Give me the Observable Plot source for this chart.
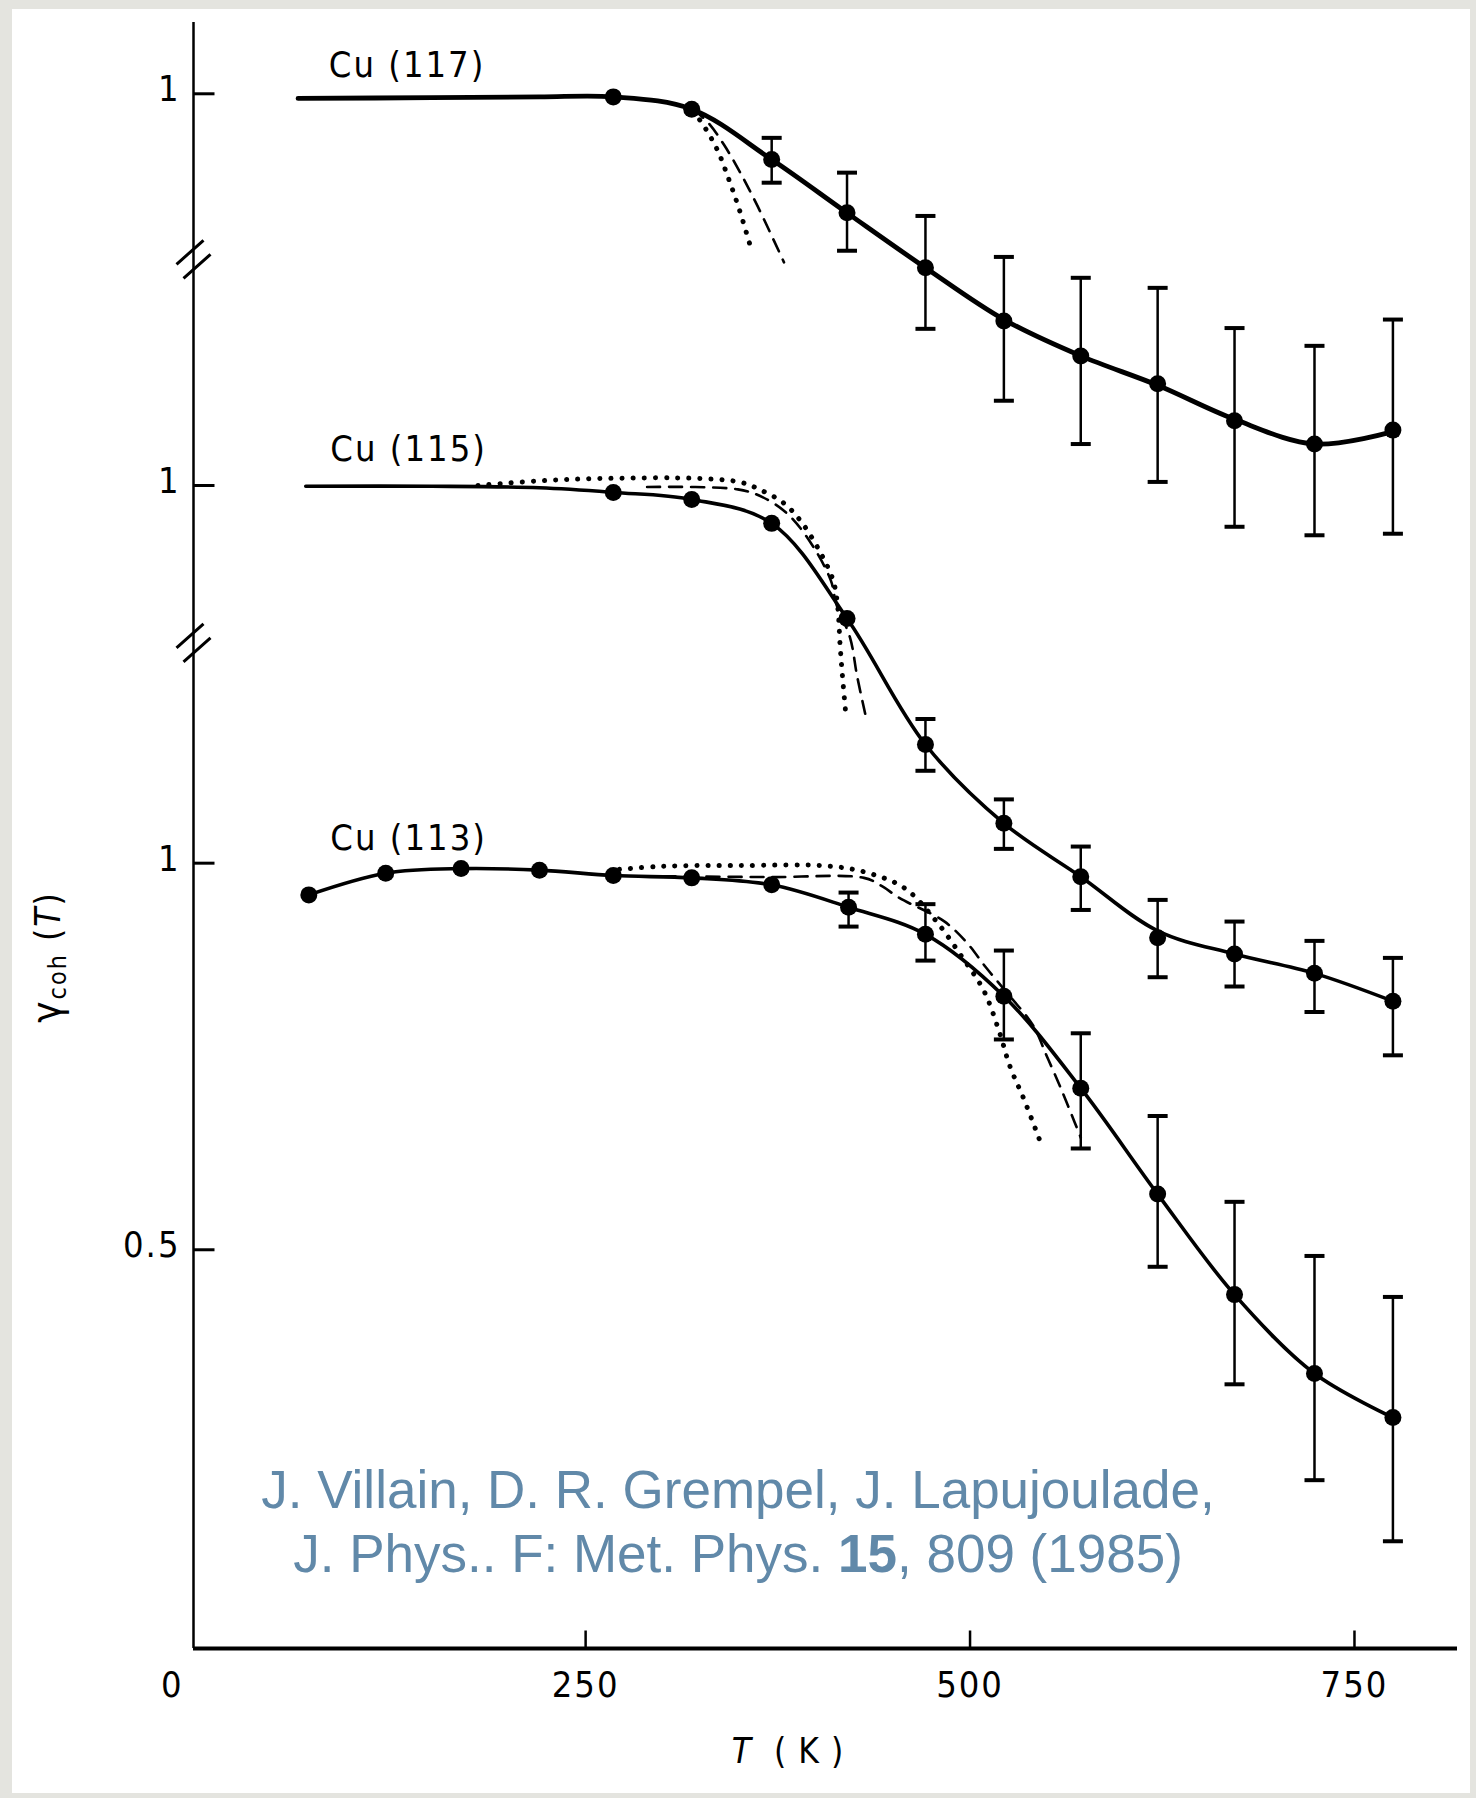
<!DOCTYPE html>
<html>
<head>
<meta charset="utf-8">
<script src="https://cdn.jsdelivr.net/npm/d3@7"></script>
<script src="https://cdn.jsdelivr.net/npm/@observablehq/plot@0.6"></script>
<style>
  html, body { margin: 0; padding: 0; background: #e4e4df; }
  #page { position: relative; width: 1476px; height: 1798px; overflow: hidden; }
  #paper { position: absolute; left: 12px; top: 9px; width: 1458px; height: 1784px; background: #ffffff; }
  #chart { position: absolute; left: 0; top: 0; }
  #caption { position: absolute; left: 0; top: 1458px; width: 1476px; text-align: center;
    font-family: "Liberation Sans", Arial, Helvetica, sans-serif; font-size: 53px; line-height: 64px; color: #6189a9; }
  #caption b { font-weight: bold; }
</style>
</head>
<body>
<div id="page">
  <div id="paper"></div>
  <div id="chart"></div>
  <div id="caption">J. Villain, D. R. Grempel, J. Lapujoulade,<br>J. Phys.. F: Met. Phys. <b>15</b>, 809 (1985)</div>
</div>
<script>
// ---------------- data ----------------
// vertical offsets of the stacked curves (Cu(113) is on the true scale)
const off113 = 0, off115 = 0.4885, off117 = 0.9951;

// Cu(117) measured points
const cu117T  = [268, 319, 371, 420, 471, 522, 572, 622, 672, 724, 775];
const cu117G  = [0.996, 0.980, 0.915, 0.846, 0.775, 0.706, 0.661, 0.625, 0.577, 0.547, 0.565];
const cu117Lo = [null, null, 0.885, 0.797, 0.696, 0.603, 0.547, 0.498, 0.440, 0.429, 0.431];
const cu117Hi = [null, null, 0.943, 0.898, 0.842, 0.789, 0.762, 0.749, 0.697, 0.674, 0.708];
// Cu(117) fitted solid curve
const cu117FitT = [63, 150, 220, 268, 319, 371, 420, 471, 522, 572, 622, 672, 724, 775];
const cu117FitG = [0.994, 0.995, 0.996, 0.996, 0.980, 0.915, 0.846, 0.775, 0.708, 0.661, 0.623, 0.579, 0.547, 0.563];
// Cu(117) theory curves
const cu117DashT = [320, 330, 340, 350, 362, 379];
const cu117DashG = [0.980, 0.962, 0.934, 0.900, 0.854, 0.782];
const cu117DotT  = [320, 328, 336, 343, 350, 358];
const cu117DotG  = [0.978, 0.955, 0.926, 0.890, 0.850, 0.797];

// Cu(115) measured points
const cu115T  = [268, 319, 371, 420, 471, 522, 572, 622, 672, 724, 775];
const cu115G  = [0.991, 0.982, 0.951, 0.828, 0.665, 0.563, 0.494, 0.415, 0.394, 0.369, 0.333];
const cu115Lo = [null, null, null, null, 0.631, 0.530, 0.451, 0.364, 0.352, 0.319, 0.263];
const cu115Hi = [null, null, null, null, 0.698, 0.594, 0.533, 0.464, 0.436, 0.411, 0.389];
const cu115FitT = [68, 150, 220, 268, 319, 371, 420, 471, 522, 572, 622, 672, 724, 775];
const cu115FitG = [0.999, 0.999, 0.997, 0.991, 0.982, 0.951, 0.828, 0.665, 0.563, 0.494, 0.424, 0.394, 0.369, 0.333];
const cu115DashT = [290, 349, 365, 382, 397, 409.5, 413, 422, 426.5, 432];
const cu115DashG = [0.998, 0.995, 0.985, 0.962, 0.924, 0.877, 0.847, 0.803, 0.754, 0.703];
const cu115DotT  = [180, 220, 260, 325, 351, 364, 379, 391, 403, 411, 414, 415.5, 417, 419];
const cu115DotG  = [1.000, 1.006, 1.009, 1.009, 1.004, 0.994, 0.977, 0.951, 0.912, 0.877, 0.842, 0.793, 0.754, 0.709];

// Cu(113) measured points
const cu113T  = [70, 120, 169, 220, 268, 319, 371, 421, 471, 522, 572, 622, 672, 724, 775];
const cu113G  = [0.959, 0.987, 0.993, 0.991, 0.984, 0.981, 0.972, 0.943, 0.908, 0.828, 0.709, 0.572, 0.442, 0.340, 0.283];
const cu113Lo = [null, null, null, null, null, null, null, 0.918, 0.874, 0.772, 0.631, 0.478, 0.326, 0.202, 0.123];
const cu113Hi = [null, null, null, null, null, null, null, 0.962, 0.947, 0.887, 0.780, 0.673, 0.562, 0.492, 0.439];
const cu113DashT = [300, 370, 431, 443, 454, 483, 498, 510, 525, 541, 550, 559, 568, 572];
const cu113DashG = [0.983, 0.982, 0.981, 0.970, 0.955, 0.925, 0.897, 0.866, 0.830, 0.790, 0.750, 0.709, 0.665, 0.645];
const cu113DotT  = [272, 300, 350, 410, 436, 458, 478, 495, 509, 519, 526, 535, 546];
const cu113DotG  = [0.992, 0.996, 0.997, 0.996, 0.986, 0.967, 0.925, 0.878, 0.835, 0.782, 0.737, 0.695, 0.638];

// labels / ticks
const seriesNames = ["Cu (117)", "Cu (115)", "Cu (113)"];
const seriesOffsets = [off117, off115, off113];
const seriesLabelT = [83, 84, 84];
const seriesLabelDy = [-17, -24, -13];
const xTickValues = [250, 500, 750];
const xZeroLabel = "0";
const yTickValues = [1 + off117, 1 + off115, 1 + off113, 0.5 + off113];
const yTickLabels = ["1", "1", "1", "0.5"];
const axisBreaks = [1.781, 1.285];

const xDomain = [-5, 817];
const yDomain = [-0.0157, 2.0873];

// ---------------- helpers ----------------
const pts = (T, G, off) => T.map((t, i) => ({T: t, y: G[i] + off}));
const errs = (T, Lo, Hi, off) => T.map((t, i) => ({T: t, lo: Lo[i], hi: Hi[i]}))
  .filter(d => d.lo != null).map(d => ({T: d.T, y1: d.lo + off, y2: d.hi + off}));
const caps = (e) => e.flatMap(d => [{T: d.T, y: d.y1}, {T: d.T, y: d.y2}]);

const tickRight = {draw(ctx) { ctx.moveTo(0, 0); ctx.lineTo(21, 0); }};
const tickUp = {draw(ctx) { ctx.moveTo(0, 0); ctx.lineTo(0, -18); }};
const capSym = {draw(ctx) { ctx.moveTo(-10, 0); ctx.lineTo(10, 0); }};
const breakSym = {draw(ctx) { ctx.moveTo(-17, 5); ctx.lineTo(10, -19); ctx.moveTo(-10, 19); ctx.lineTo(17, -5); }};

const series = [
  {pts: pts(cu117T, cu117G, off117), fit: pts(cu117FitT, cu117FitG, off117), err: errs(cu117T, cu117Lo, cu117Hi, off117),
   dash: pts(cu117DashT, cu117DashG, off117), dot: pts(cu117DotT, cu117DotG, off117), w: 4.8},
  {pts: pts(cu115T, cu115G, off115), fit: pts(cu115FitT, cu115FitG, off115), err: errs(cu115T, cu115Lo, cu115Hi, off115),
   dash: pts(cu115DashT, cu115DashG, off115), dot: pts(cu115DotT, cu115DotG, off115), w: 3.6},
  {pts: pts(cu113T, cu113G, off113), fit: pts(cu113T, cu113G, off113), err: errs(cu113T, cu113Lo, cu113Hi, off113),
   dash: pts(cu113DashT, cu113DashG, off113), dot: pts(cu113DotT, cu113DotG, off113), w: 3.6}
];

const marks = [
  Plot.ruleX([xDomain[0]], {stroke: "black", strokeWidth: 2.5}),
  Plot.ruleY([yDomain[0]], {stroke: "black", strokeWidth: 4}),
  Plot.dot(yTickValues, {x: xDomain[0], y: d => d, symbol: tickRight, stroke: "black", strokeWidth: 3, fill: "none"}),
  Plot.dot(xTickValues, {x: d => d, y: yDomain[0], symbol: tickUp, stroke: "black", strokeWidth: 2.5, fill: "none"}),
  Plot.dot(axisBreaks, {x: xDomain[0], y: d => d, symbol: breakSym, stroke: "black", strokeWidth: 3, fill: "none"}),
  Plot.text(yTickValues, {x: xDomain[0], y: d => d, text: (d, i) => yTickLabels[i], textAnchor: "end", dx: -13, dy: -4, fontSize: 36}),
  Plot.text(xTickValues, {x: d => d, y: yDomain[0], text: d => String(d), dy: 37, fontSize: 36}),
  Plot.text([0], {x: d => d, y: yDomain[0], text: () => xZeroLabel, dy: 37, dx: -29, fontSize: 36})
];

series.forEach((s, i) => {
  marks.push(
    Plot.line(s.dot, {x: "T", y: "y", curve: "catmull-rom", stroke: "black", strokeWidth: 5, strokeDasharray: "0.1,11", strokeLinecap: "round"}),
    Plot.line(s.dash, {x: "T", y: "y", curve: "catmull-rom", stroke: "black", strokeWidth: 2.6, strokeDasharray: "13,9"}),
    Plot.line(s.fit, {x: "T", y: "y", curve: "catmull-rom", stroke: "black", strokeWidth: s.w}),
    Plot.ruleX(s.err, {x: "T", y1: "y1", y2: "y2", stroke: "black", strokeWidth: 2.5}),
    Plot.dot(caps(s.err), {x: "T", y: "y", symbol: capSym, stroke: "black", strokeWidth: 4, fill: "none"}),
    Plot.dot(s.pts, {x: "T", y: "y", r: 8.5, fill: "black", stroke: "none"}),
    Plot.text([seriesNames[i]], {x: seriesLabelT[i], y: 1 + seriesOffsets[i], text: d => d, textAnchor: "start", lineAnchor: "bottom", dy: seriesLabelDy[i], fontSize: 36})
  );
});

const chart = Plot.plot({
  width: 1476,
  height: 1798,
  marginTop: 22,
  marginBottom: 150,
  marginLeft: 193,
  marginRight: 19,
  x: {domain: xDomain, axis: null},
  y: {domain: yDomain, axis: null},
  style: {background: "transparent", fontFamily: "'DejaVu Sans Condensed', 'DejaVu Sans', sans-serif", fontStretch: "condensed", color: "black", overflow: "visible"},
  marks
});
document.getElementById("chart").appendChild(chart);

// axis titles with sub/italic formatting
const svg = d3.select(chart);
svg.selectAll("text").attr("letter-spacing", 2);
const yl = svg.append("text")
  .attr("transform", "translate(60,957) rotate(-90)")
  .attr("text-anchor", "middle")
  .attr("font-size", 35)
  .attr("letter-spacing", 2)
  .attr("fill", "black");
yl.append("tspan").attr("font-size", 40).text("γ");
yl.append("tspan").attr("font-size", 25).attr("dy", 6).text("coh");
yl.append("tspan").attr("dy", -6).text(" (");
yl.append("tspan").attr("font-style", "italic").text("T");
yl.append("tspan").text(")");

const xl = svg.append("text")
  .attr("x", 788).attr("y", 1763)
  .attr("text-anchor", "middle")
  .attr("font-size", 35)
  .attr("letter-spacing", 1)
  .attr("fill", "black");
xl.append("tspan").attr("font-style", "italic").text("T");
xl.append("tspan").text("  ( K )");
</script>
</body>
</html>
